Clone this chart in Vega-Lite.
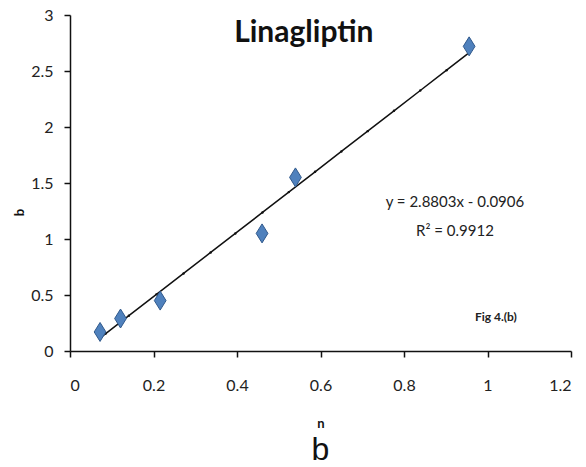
{
  "$schema": "https://vega.github.io/schema/vega-lite/v6.json",
  "width": 501,
  "height": 336,
  "autosize": {"type": "none"},
  "padding": {"left": 70, "top": 15, "right": 15, "bottom": 116},
  "background": "white",
  "title": {"text": "b", "orient": "bottom", "fontSize": 32, "font": "Liberation Sans", "fontWeight": "normal", "color": "#111", "offset": 5, "anchor": "middle"},
  "config": {"view": {"stroke": null}, "axis": {"grid": false, "domainColor": "#111", "domainWidth": 1.5, "tickColor": "#111", "tickWidth": 1.5, "tickSize": 6, "labelFont": "Lato", "labelFontSize": 16, "labelColor": "#222", "titleFont": "Lato", "titleFontWeight": "bold", "titleFontSize": 13, "titleColor": "#111", "format": "~g"}},
  "datasets": {
    "obs": [
      {"n": 0.072, "b": 0.17},
      {"n": 0.121, "b": 0.29},
      {"n": 0.216, "b": 0.45},
      {"n": 0.46, "b": 1.05},
      {"n": 0.54, "b": 1.55},
      {"n": 0.956, "b": 2.72}
    ],
    "trend": [
      {"n": 0.072, "b": 0.1168},
      {"n": 0.0855, "b": 0.1557},
      {"n": 0.141, "b": 0.3155},
      {"n": 0.207, "b": 0.5056},
      {"n": 0.272, "b": 0.6928},
      {"n": 0.337, "b": 0.8801},
      {"n": 0.396, "b": 1.05},
      {"n": 0.461, "b": 1.2372},
      {"n": 0.524, "b": 1.4187},
      {"n": 0.587, "b": 1.6001},
      {"n": 0.65, "b": 1.7816},
      {"n": 0.713, "b": 1.963},
      {"n": 0.776, "b": 2.1445},
      {"n": 0.839, "b": 2.326},
      {"n": 0.902, "b": 2.5074},
      {"n": 0.957, "b": 2.6658}
    ],
    "notes": [
      {"n": 0.56, "b": 2.76, "label": "Linagliptin", "kind": "title"},
      {"n": 0.922, "b": 1.33, "label": "y = 2.8803x - 0.0906", "kind": "eq"},
      {"n": 0.922, "b": 1.07, "label": "R² = 0.9912", "kind": "eq"},
      {"n": 1.02, "b": 0.30, "label": "Fig 4.(b)", "kind": "fig"}
    ]
  },
  "layer": [
    {
      "data": {"name": "trend"},
      "mark": {"type": "line", "color": "#111", "strokeWidth": 1.5, "point": {"filled": true, "size": 6, "color": "#111"}},
      "encoding": {
        "x": {"field": "n", "type": "quantitative", "scale": {"domain": [0, 1.2]}, "axis": {"values": [0, 0.2, 0.4, 0.6, 0.8, 1, 1.2], "title": "n", "labelPadding": 20, "titlePadding": 24}},
        "y": {"field": "b", "type": "quantitative", "scale": {"domain": [0, 3]}, "axis": {"values": [0, 0.5, 1, 1.5, 2, 2.5, 3], "title": "b", "labelPadding": 11, "titlePadding": 4, "titleY": 197}}
      }
    },
    {
      "data": {"name": "obs"},
      "mark": {"type": "point", "shape": "M0,-1L0.62,0L0,1L-0.62,0Z", "size": 360, "filled": true, "fill": "#4f81bd", "stroke": "#30598c", "strokeWidth": 1, "opacity": 1},
      "encoding": {
        "x": {"field": "n", "type": "quantitative"},
        "y": {"field": "b", "type": "quantitative"}
      }
    },
    {
      "data": {"name": "notes"},
      "transform": [{"filter": "datum.kind === 'title'"}],
      "mark": {"type": "text", "font": "Lato", "fontSize": 30, "fontWeight": "bold", "color": "#111", "align": "center", "baseline": "alphabetic"},
      "encoding": {
        "x": {"field": "n", "type": "quantitative"},
        "y": {"field": "b", "type": "quantitative"},
        "text": {"field": "label"}
      }
    },
    {
      "data": {"name": "notes"},
      "transform": [{"filter": "datum.kind === 'eq'"}],
      "mark": {"type": "text", "font": "Lato", "fontSize": 15, "color": "#222", "align": "center", "baseline": "middle"},
      "encoding": {
        "x": {"field": "n", "type": "quantitative"},
        "y": {"field": "b", "type": "quantitative"},
        "text": {"field": "label"}
      }
    },
    {
      "data": {"name": "notes"},
      "transform": [{"filter": "datum.kind === 'fig'"}],
      "mark": {"type": "text", "font": "Lato", "fontSize": 12, "fontWeight": "bold", "color": "#222", "align": "center", "baseline": "middle"},
      "encoding": {
        "x": {"field": "n", "type": "quantitative"},
        "y": {"field": "b", "type": "quantitative"},
        "text": {"field": "label"}
      }
    }
  ]
}
